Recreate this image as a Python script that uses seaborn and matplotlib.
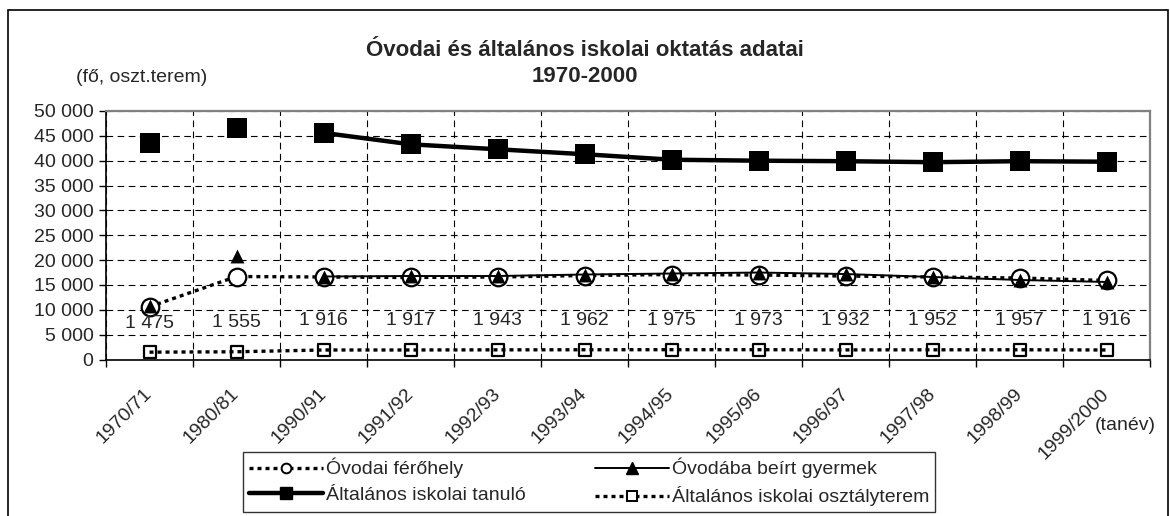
import numpy as np
import pandas as pd
import matplotlib
matplotlib.use('Agg')
import matplotlib.pyplot as plt
import seaborn as sns
from matplotlib.ticker import FuncFormatter
from matplotlib.lines import Line2D
from matplotlib.patches import Rectangle

# ---------------- data ----------------
categories = ['1970/71', '1980/81', '1990/91', '1991/92', '1992/93', '1993/94',
              '1994/95', '1995/96', '1996/97', '1997/98', '1998/99', '1999/2000']
ovodai_ferohely = [10600, 16700, 16600, 16500, 16600, 16900, 17100, 17000, 16800, 16600, 16400, 15900]
ovodaba_beirt = [10800, 20900, 16700, 16800, 16800, 17100, 17300, 17500, 17200, 16600, 16000, 15600]
altalanos_tanulo = [43600, 46500, 45600, 43300, 42300, 41300, 40200, 40000, 39900, 39700, 39900, 39800]
osztalyterem = [1475, 1555, 1916, 1917, 1943, 1962, 1975, 1973, 1932, 1952, 1957, 1916]
series_names = ['Óvodai férőhely', 'Óvodába beírt gyermek',
                'Általános iskolai tanuló', 'Általános iskolai osztályterem']

sns.set_theme(style='white')
plt.rcParams['font.family'] = ['Liberation Sans', 'DejaVu Sans']

FS = 14

df = pd.DataFrame({'x': np.arange(len(categories)),
                   'fer': ovodai_ferohely, 'beirt': ovodaba_beirt,
                   'tan': altalanos_tanulo, 'oszt': osztalyterem})
conn = df[df['x'] >= 2]   # connected part for two series

W, H = 1170, 516
fig = plt.figure(figsize=(W / 100, H / 100), dpi=100)
fig.patch.set_facecolor('white')
ax = fig.add_axes([106 / W, 1 - 359.5 / H, (1150 - 106) / W, (359.5 - 111) / H])
ax.set_facecolor('white')

dot = (0, (1.2, 1.2))

# Általános iskolai tanuló
sns.lineplot(data=conn, x='x', y='tan', ax=ax, color='black', lw=3.2,
             estimator=None, sort=False, zorder=3)
sns.scatterplot(data=df, x='x', y='tan', ax=ax, marker='s', s=190,
                color='black', edgecolor='black', linewidth=0, zorder=4)

# Óvodai férőhely (circles, dotted)
sns.lineplot(data=df, x='x', y='fer', ax=ax, color='black', lw=2.4, linestyle=dot,
             estimator=None, sort=False, zorder=3)
sns.scatterplot(data=df, x='x', y='fer', ax=ax, marker='o', s=160,
                facecolor='white', edgecolor='black', linewidth=1.6, zorder=4)

# Óvodába beírt gyermek (triangles, solid thin)
sns.lineplot(data=conn, x='x', y='beirt', ax=ax, color='black', lw=1.4,
             estimator=None, sort=False, zorder=5)
sns.scatterplot(data=df, x='x', y='beirt', ax=ax, marker='^', s=100,
                color='black', edgecolor='black', linewidth=0, zorder=6)

# Általános iskolai osztályterem (small squares, dotted)
sns.scatterplot(data=df, x='x', y='oszt', ax=ax, marker='s', s=75,
                facecolor='white', edgecolor='black', linewidth=1.6, zorder=4)
sns.lineplot(data=df, x='x', y='oszt', ax=ax, color='black', lw=2.4, linestyle=dot,
             estimator=None, sort=False, zorder=5)

for i, v in enumerate(osztalyterem):
    ax.annotate(f'{v:,}'.replace(',', ' '), (i, v), xytext=(0, 21),
                textcoords='offset points', ha='center', va='center', fontsize=FS,
                zorder=7)

# axes
n = len(categories)
ax.set_xlim(-0.5, n - 0.5)
ax.set_ylim(0, 50000)
ax.set_yticks(np.arange(0, 50001, 5000))
ax.yaxis.set_major_formatter(FuncFormatter(lambda v, p: f'{int(v):,}'.replace(',', ' ')))
ax.set_xticks(np.arange(-0.5, n, 1.0))
ax.set_xticklabels([])
ax.set_xticks(np.arange(n), minor=True)
ax.set_xticklabels(categories, minor=True, rotation=45, ha='right',
                   rotation_mode='anchor', va='center')
ax.tick_params(axis='x', which='major', direction='out', length=5, width=1, color='black',
               bottom=True)
ax.tick_params(axis='x', which='minor', length=0, pad=23, labelsize=FS, bottom=True)
ax.tick_params(axis='y', direction='out', length=5, width=1, color='black', left=True,
               labelsize=FS, pad=4)
ax.set_xlabel('')
ax.set_ylabel('')
ax.set_axisbelow(True)
ax.grid(True, which='major', color='black', linestyle=(0, (6, 4)), lw=0.8)

for s in ['left', 'bottom']:
    ax.spines[s].set_color('black')
    ax.spines[s].set_linewidth(1.2)
for s in ['top', 'right']:
    ax.spines[s].set_color('#808080')
    ax.spines[s].set_linewidth(1.6)
for s in ax.spines.values():
    s.set_visible(True)

# titles and texts
fig.text(585 / W, 1 - 50 / H, 'Óvodai és általános iskolai oktatás adatai',
         ha='center', va='center', fontsize=16, weight='bold')
fig.text(585 / W, 1 - 77 / H, '1970-2000', ha='center', va='center',
         fontsize=16, weight='bold')
fig.text(76 / W, 1 - 77 / H, '(fő, oszt.terem)', ha='left', va='center', fontsize=FS)
fig.text(1156 / W, 1 - 426 / H, '(tanév)', ha='right', va='center', fontsize=FS)

# legend
h_fer = Line2D([], [], color='black', lw=2.4, linestyle=dot, marker='o', markersize=7,
               markerfacecolor='white', markeredgecolor='black', markeredgewidth=1.4)
h_beirt = Line2D([], [], color='black', lw=1.4, marker='^', markersize=8,
                 markerfacecolor='black', markeredgecolor='black')
h_tan = Line2D([], [], color='black', lw=3.2, marker='s', markersize=8,
               markerfacecolor='black', markeredgecolor='black')
h_oszt = Line2D([], [], color='black', lw=2.4, linestyle=dot, marker='s', markersize=7,
                markerfacecolor='white', markeredgecolor='black', markeredgewidth=1.4)
leg = fig.legend([h_fer, h_tan, h_beirt, h_oszt],
                 [series_names[0], series_names[2], series_names[1], series_names[3]],
                 ncol=2, loc='upper left', bbox_to_anchor=(243 / W, 1 - 452 / H),
                 frameon=True, fancybox=False, edgecolor='black', fontsize=FS,
                 handlelength=3.8, handletextpad=0.15, columnspacing=3.6,
                 labelspacing=0.42, borderpad=0.3, borderaxespad=0)
leg.get_frame().set_linewidth(1.0)

# outer chart border
fig.add_artist(Rectangle((8 / W, -0.1), (1168 - 8) / W, 1 - 10 / H + 0.1,
                         transform=fig.transFigure, fill=False, edgecolor='black', lw=1.2))

fig.savefig('out.png', dpi=100, facecolor='white')
